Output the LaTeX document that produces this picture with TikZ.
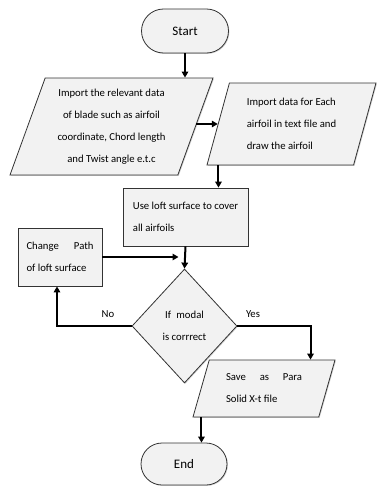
\documentclass[tikz,border=0pt]{standalone}
\usepackage{fontspec}
\setmainfont{Carlito}
\usetikzlibrary{arrows.meta,shapes.geometric,shapes.misc,calc,shadows}
\definecolor{boxgray}{RGB}{242,242,242}
\tikzset{
  box/.style={draw=black!80, fill=boxgray, line width=0.8pt,
    drop shadow={shadow xshift=0.9pt, shadow yshift=-0.9pt, opacity=0.35},
    font=\fontsize{10.7}{22}\selectfont, inner sep=3pt},
  term/.style={box, rounded rectangle, minimum width=93pt, minimum height=44pt,
    font=\fontsize{13}{15}\selectfont},
  io/.style={box, trapezium, trapezium stretches body},
  proc/.style={box, rectangle, align=left},
  dec/.style={box, diamond, align=center},
  arr/.style={-{Triangle[length=6pt,width=6.5pt]}, line width=2pt},
  lbl/.style={font=\fontsize{10.7}{12}\selectfont, inner sep=0pt}
}
\begin{document}
\begin{tikzpicture}[x=1pt,y=-1pt]
	\useasboundingbox (0,0) rectangle (377,487);
	% shapes
	\node[term] (start) at (185,31) {Start};
	\node[io, trapezium left angle=66.6, trapezium right angle=113.4,
		minimum width=203pt, minimum height=97pt, align=center] (imp) at (111.5,126.5)
		{Import the relevant data\\of blade such as airfoil\\coordinate, Chord length\\and Twist angle e.t.c};
	\node[io, trapezium left angle=68.7, trapezium right angle=111.3,
		minimum width=169pt, minimum height=82pt, align=left] (drw) at (291.5,124)
		{Import data for Each\\airfoil in text file and\\draw the airfoil};
	\node[proc, minimum width=125pt, minimum height=58pt] (loft) at (185.5,217)
		{Use loft surface to cover\\all airfoils};
	\node[proc, minimum width=84pt, minimum height=58pt] (chg) at (60,257)
		{\makebox[67pt][l]{Change\hfill Path}\\of loft surface};
	\node[dec, minimum width=105pt, minimum height=114pt] (mod) at (184.5,326)
		{If\enspace modal\\is corrrect};
	\node[io, trapezium left angle=65.1, trapezium right angle=114.9,
		minimum width=142pt, minimum height=57pt, align=left] (sav) at (264,388.5)
		{\makebox[76pt][l]{Save\hfill as\hfill Para}\\Solid X-t file};
	\node[term, minimum width=92pt, minimum height=42pt] (end) at (184,464) {End};
	% labels
	\node[lbl] (no) at (108,314) {No};
	\node[lbl] (yes) at (253,314) {Yes};
	% connectors
	\coordinate (jn) at ($(loft.south |- chg.east)+(-7,0)$);
	\draw[arr] (start.south) -- (start.south |- imp.north);
	\draw[arr] (imp.east |- drw.west) -- (drw.west);
	\draw[arr] ([xshift=12pt]drw.bottom left corner) -- ([xshift=12pt]drw.bottom left corner |- loft.north);
	\draw[arr] (loft.south) -- (mod.north);
	\draw[arr] (chg.east) -- (jn);
	\draw[arr] (mod.west) -| ([xshift=-3pt]chg.south);
	\draw[arr] (mod.east) -| ([xshift=-25pt]sav.top right corner);
	\draw[arr] ([xshift=9pt]sav.bottom left corner) -- ([xshift=9pt]sav.bottom left corner |- end.north);
\end{tikzpicture}
\end{document}
